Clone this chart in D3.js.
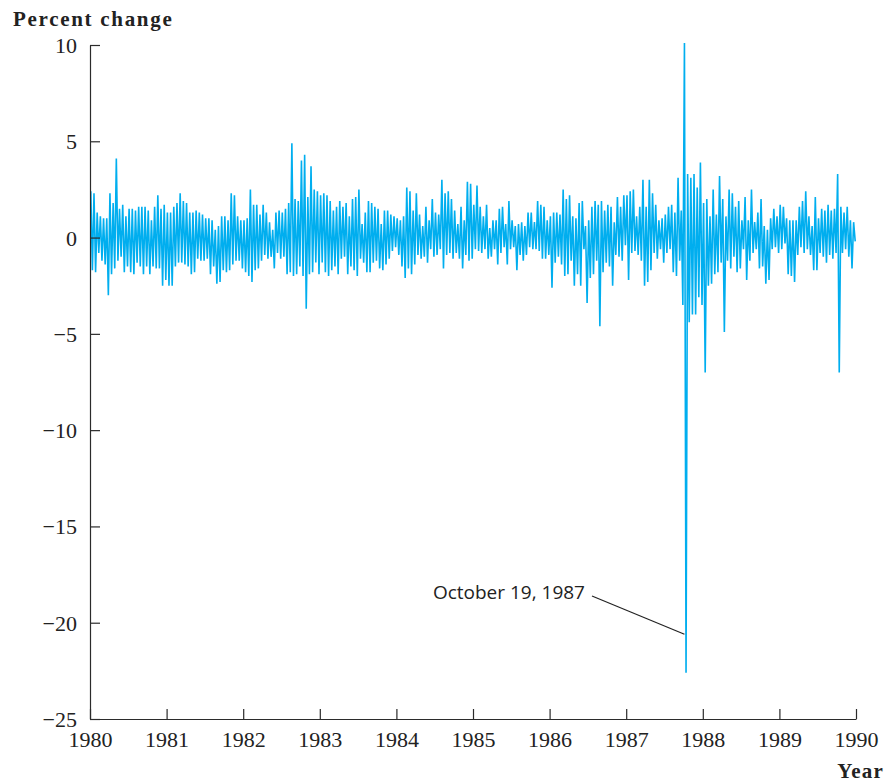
<!DOCTYPE html>
<html>
<head>
<meta charset="utf-8">
<script src="https://cdn.jsdelivr.net/npm/d3@7"></script>
<style>
  html, body { margin: 0; padding: 0; background: #fff; }
  svg { display: block; }
</style>
</head>
<body>
<svg id="chart" width="885" height="783"></svg>
<script>
// Daily percent change of the stock index, 1980–1989.
// Each year holds 24 half-month swings; each swing lists the two
// extreme daily moves (largest gain and largest loss) of that half month.
const years = [1980, 1981, 1982, 1983, 1984, 1985, 1986, 1987, 1988, 1989];

const swings1980 = [[2.4,-1.7],[-1.8,2.3],[1.3,-0.8],[-1.2,1.1],[1.0,-1.4],[1.0,-3.0],[2.3,-1.9],[-1.6,1.8],[4.1,-1.2],[-1.0,1.5],[1.7,-1.8],[-1.5,1.1],[1.5,-1.8],[-1.9,1.5],[1.4,-1.3],[-1.5,1.6],[1.6,-1.9],[-1.5,1.6],[1.4,-1.9],[-1.5,0.9],[1.6,-1.6],[2.2,-1.6],[-2.5,1.5],[1.7,-2.2]];
const swings1981 = [[-2.5,1.3],[1.3,-2.5],[1.6,-1.5],[-1.3,1.8],[2.3,-1.3],[-1.4,1.9],[1.8,-1.5],[-1.9,1.3],[1.3,-1.8],[-1.1,1.4],[1.3,-1.2],[-1.2,1.2],[1.0,-1.1],[-1.9,1.0],[0.9,-1.5],[0.4,-2.4],[-2.3,0.6],[1.1,-1.7],[-1.8,1.1],[0.9,-1.7],[2.3,-1.4],[-1.2,2.2],[1.1,-1.2],[-1.6,0.9]];
const swings1982 = [[0.9,-1.8],[-2.0,1.0],[2.5,-2.3],[-1.7,1.7],[1.7,-1.6],[-1.2,1.2],[1.7,-0.9],[-1.1,1.3],[0.8,-1.0],[-1.6,0.4],[1.3,-0.8],[-1.1,1.4],[1.3,-1.0],[-1.9,1.5],[1.8,-1.8],[4.9,-2.0],[-1.9,2.0],[1.9,-1.5],[4.0,-2.0],[-3.7,4.3],[2.1,-1.9],[-1.8,3.7],[2.5,-1.3],[-1.9,2.4]];
const swings1983 = [[2.2,-1.3],[-1.8,2.3],[2.2,-2.0],[-1.7,1.9],[1.4,-1.5],[-1.9,1.6],[1.9,-1.1],[-1.0,1.6],[1.8,-1.9],[-1.5,1.1],[2.0,-1.7],[-2.0,2.1],[2.5,-1.1],[-1.3,0.7],[1.3,-1.8],[-1.8,1.9],[1.8,-1.3],[-1.2,1.6],[1.5,-1.6],[-1.7,0.7],[1.4,-1.4],[-1.1,1.4],[1.2,-0.7],[-0.5,1.1]];
const swings1984 = [[1.0,-0.9],[-1.5,0.9],[1.1,-2.1],[2.6,-1.6],[-1.9,2.4],[1.4,-1.4],[2.3,-0.9],[-1.1,1.2],[0.6,-1.0],[1.6,-1.3],[-0.6,0.9],[2.0,-1.0],[-0.9,1.3],[1.2,-0.6],[3.0,-1.6],[-0.9,2.3],[2.4,-0.8],[-1.1,2.0],[1.4,-0.8],[-1.1,0.7],[1.6,-1.6],[-0.9,0.9],[2.9,-1.2],[-1.1,2.8]];
const swings1985 = [[1.7,-0.6],[2.7,-0.7],[-0.8,1.6],[1.1,-0.6],[-1.1,1.7],[0.5,-1.0],[-0.6,0.9],[0.9,-1.4],[1.5,-0.8],[-0.5,1.6],[0.7,-1.4],[1.9,-0.6],[-0.5,0.9],[0.6,-1.7],[-0.9,0.7],[0.8,-1.2],[-0.9,0.6],[1.3,-0.5],[-0.6,1.3],[0.8,-0.6],[1.9,-0.7],[-1.1,1.7],[1.6,-1.1],[-0.9,0.9]];
const swings1986 = [[1.1,-2.6],[-1.3,1.3],[1.3,-1.0],[-1.4,1.2],[2.5,-2.0],[-1.9,2.0],[2.2,-1.2],[-2.5,1.1],[1.0,-1.9],[1.8,-2.5],[-0.6,1.9],[0.6,-3.4],[-2.1,0.9],[1.6,-1.9],[-1.2,1.9],[1.7,-4.6],[-1.8,1.9],[1.4,-1.3],[1.7,-1.5],[-2.5,1.6],[0.8,-0.9],[2.1,-1.0],[-1.2,1.6],[2.2,-0.4]];
const swings1987 = [[-2.2,2.2],[2.4,-0.8],[-0.7,2.5],[1.1,-0.9],[-1.2,1.6],[3.0,-2.5],[-2.3,1.6],[3.0,-1.7],[-0.8,2.3],[1.7,-1.1],[-0.6,0.9],[1.0,-1.3],[-0.8,1.2],[1.6,-0.6],[-1.8,1.7],[1.3,-2.0],[3.1,-1.2],[-3.5,1.4],[-22.6,10.1],[3.3,-4.4],[-4.0,3.1],[3.3,-4.0],[-3.1,2.6],[-3.5,3.9]];
const swings1988 = [[-7.0,1.8],[2.0,-2.5],[-2.4,1.1],[2.5,-1.9],[-1.8,1.2],[3.2,-1.3],[-4.9,2.0],[1.1,-1.2],[2.5,-1.6],[-1.0,2.3],[1.6,-1.8],[-1.6,1.9],[0.9,-0.6],[2.1,-2.2],[-1.2,0.9],[2.5,-0.8],[-0.6,0.8],[1.3,-1.6],[-1.5,2.0],[0.6,-2.4],[-2.2,0.4],[1.0,-0.6],[1.5,-0.5],[-0.8,1.1]];
const swings1989 = [[1.7,-0.6],[-0.3,1.6],[1.0,-1.9],[-2.0,0.9],[0.9,-2.3],[-0.9,0.9],[1.6,-0.5],[-0.8,1.9],[2.4,-0.6],[-0.9,1.1],[0.6,-1.7],[2.1,-1.7],[-0.8,1.0],[1.5,-1.0],[-1.3,1.4],[1.7,-0.9],[-1.1,1.4],[1.5,-0.8],[3.3,-7.0],[-0.8,1.6],[1.3,-0.6],[-1.0,1.6],[0.9,-1.6],[-0.2,0.8]];

const yearTicks = [1980, 1981, 1982, 1983, 1984, 1985, 1986, 1987, 1988, 1989, 1990];
const percentTicks = [10, 5, 0, -5, -10, -15, -20, -25];

const crashNote = { label: "October 19, 1987", year: 1987, half: 18, value: -20.6 };

const swingsByYear = [swings1980, swings1981, swings1982, swings1983, swings1984,
                      swings1985, swings1986, swings1987, swings1988, swings1989];

// Flatten into a dated series (decimal years): gain, then loss, every half month
const series = [];
years.forEach((yr, i) => {
  swingsByYear[i].forEach((pair, k) => {
    series.push({ t: yr + (k + 0.25) / 24, v: d3.max(pair) });
    series.push({ t: yr + (k + 0.75) / 24, v: d3.min(pair) });
  });
});

const svg = d3.select("#chart");
const x = d3.scaleLinear().domain([1980, 1990]).range([90, 856]);
const y = d3.scaleLinear().domain([-25, 10]).range([719, 45]);

const serif = "'Liberation Serif', 'Times New Roman', serif";
const axisColor = "#2b2b2b";
const lineColor = "#00aeef";

// Data line
svg.append("path")
  .datum(series)
  .attr("fill", "none")
  .attr("stroke", lineColor)
  .attr("stroke-width", 1.6)
  .attr("stroke-linejoin", "bevel")
  .attr("d", d3.line().x(d => x(d.t)).y(d => y(d.v)));

// Left axis: ticks point into the plot
const yAxis = svg.append("g")
  .attr("transform", `translate(${x(1980)},0)`)
  .call(d3.axisRight(y).tickValues(percentTicks).tickSize(10).tickFormat(d3.format("d")).tickSizeOuter(0));
yAxis.select(".domain").attr("stroke", axisColor).attr("stroke-width", 1.2);
yAxis.selectAll(".tick line").attr("stroke", axisColor).attr("stroke-width", 1.2);
yAxis.selectAll(".tick text")
  .attr("x", -13)
  .attr("text-anchor", "end")
  .attr("dy", "0.34em")
  .attr("fill", "#222")
  .style("font-family", serif)
  .style("font-size", "22px");

// Bottom axis: ticks point up into the plot
const xAxis = svg.append("g")
  .attr("transform", `translate(0,${y(-25)})`)
  .call(d3.axisTop(x).tickValues(yearTicks).tickSize(10).tickFormat(d3.format("d")).tickSizeOuter(0));
xAxis.select(".domain").attr("stroke", axisColor).attr("stroke-width", 1.2);
xAxis.selectAll(".tick line").attr("stroke", axisColor).attr("stroke-width", 1.2);
xAxis.selectAll(".tick text")
  .attr("y", 28)
  .attr("dy", 0)
  .attr("fill", "#222")
  .style("font-family", serif)
  .style("font-size", "22px");

// Axis titles
svg.append("text")
  .attr("x", 13).attr("y", 26)
  .attr("fill", "#222")
  .style("font-family", serif).style("font-size", "21px").style("font-weight", "bold")
  .style("letter-spacing", "1.7px")
  .text("Percent change");

svg.append("text")
  .attr("x", 884).attr("y", 778)
  .attr("text-anchor", "end")
  .attr("fill", "#222")
  .style("font-family", serif).style("font-size", "21px").style("font-weight", "bold")
  .style("letter-spacing", "1.2px")
  .text("Year");

// Crash annotation
const noteX = x(crashNote.year + (crashNote.half + 0.25) / 24);
svg.append("line")
  .attr("x1", 592).attr("y1", 596)
  .attr("x2", noteX).attr("y2", y(crashNote.value))
  .attr("stroke", "#222").attr("stroke-width", 1.2);
svg.append("text")
  .attr("x", 585).attr("y", 599)
  .attr("text-anchor", "end")
  .attr("fill", "#222")
  .style("font-family", "'Open Sans', 'Noto Sans', sans-serif").style("font-size", "19px")
  .text(crashNote.label);
</script>
</body>
</html>
